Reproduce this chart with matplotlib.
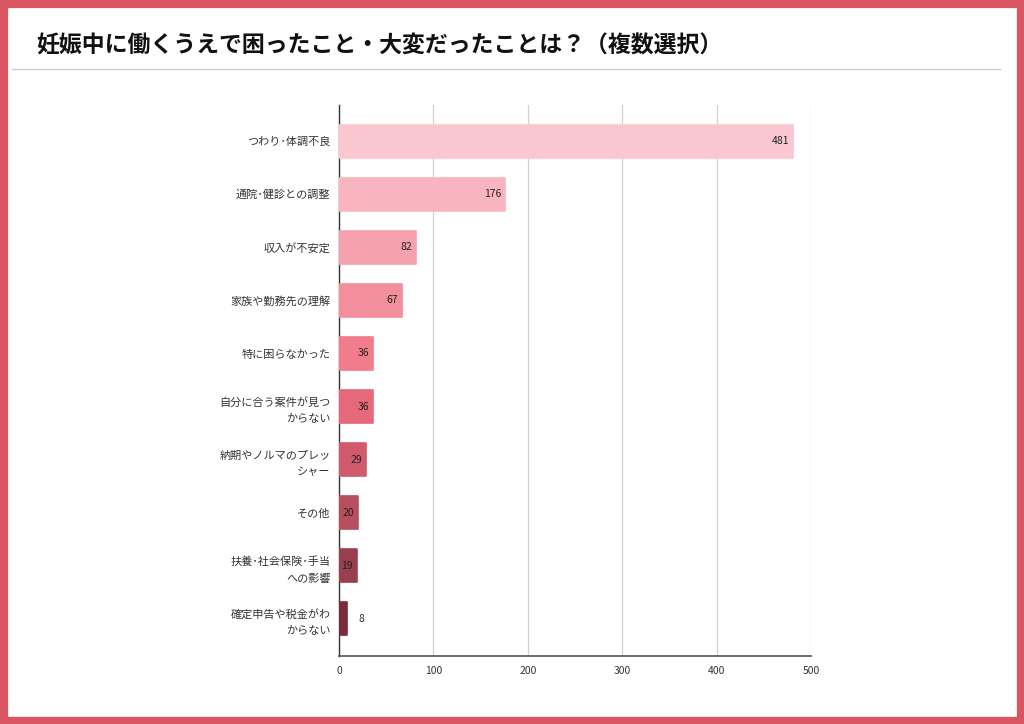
import matplotlib
matplotlib.use("Agg")
import matplotlib.pyplot as plt
from matplotlib.patches import Rectangle
from matplotlib.lines import Line2D
from matplotlib.transforms import offset_copy

plt.rcParams['font.family'] = ['Noto Sans CJK JP', 'DejaVu Sans']

title = "妊娠中に働くうえで困ったこと・大変だったことは？（複数選択）"
categories = [
    "つわり･体調不良",
    "通院･健診との調整",
    "収入が不安定",
    "家族や勤務先の理解",
    "特に困らなかった",
    "自分に合う案件が見つ\nからない",
    "納期やノルマのプレッ\nシャー",
    "その他",
    "扶養･社会保険･手当\nへの影響",
    "確定申告や税金がわ\nからない",
]
values = [481, 176, 82, 67, 36, 36, 29, 20, 19, 8]
colors = ["#FAC7D1", "#F8B5BF", "#F6A2AE", "#F38E9C", "#F07C8C",
          "#E6687B", "#D15B6D", "#B84F5F", "#9A3F4E", "#7A2C3B"]
xticks = [0, 100, 200, 300, 400, 500]

fig = plt.figure(figsize=(10.24, 7.24), dpi=100)
fig.patch.set_facecolor("white")

# border
border = "#D95561"
fig.add_artist(Rectangle((0, 0), 1, 1, transform=fig.transFigure, fill=False,
                         edgecolor=border, linewidth=11, zorder=10))
# title
fig.text(36/1024, 1-46/724, title, fontsize=16.5, fontweight='bold',
         color="#111111", va='center', ha='left')
fig.add_artist(Line2D([12/1024, 1000/1024], [1-69/724, 1-69/724],
                      transform=fig.transFigure, color="#CCCCCC", linewidth=1))

ax = fig.add_axes([339/1024, 1-656/724, (811-339)/1024, (656-105)/724])
y = list(range(len(values)))
ax.barh(y, values, height=0.62, color=colors, edgecolor=colors,
        linewidth=1.2, joinstyle='round', zorder=3)
ax.set_ylim(len(values)-1+0.7, -0.68)
ax.set_xlim(0, 500)
ax.set_xticks(xticks)
ax.set_xticklabels([str(t) for t in xticks], fontsize=7.5, color="#333333")
ax.set_yticks(y)
ax.set_yticklabels(categories, fontsize=8, color="#333333", linespacing=1.75)
ax.tick_params(axis='both', length=0, pad=7)
ax.tick_params(axis='y', pad=6)
ax.grid(axis='x', color="#D0D0D0", linewidth=0.9, zorder=0)
for s in ['top', 'right']:
    ax.spines[s].set_visible(False)
ax.spines['left'].set_color("#333333")
ax.spines['bottom'].set_color("#555555")
ax.spines['left'].set_linewidth(1.0)
ax.spines['bottom'].set_linewidth(1.2)

for i, v in enumerate(values):
    if v >= 15:
        tr = offset_copy(ax.transData, fig=fig, x=-4, y=0, units='dots')
        ax.text(v, i, str(v), transform=tr, ha='right', va='center',
                fontsize=7.5, color="#222222", zorder=4)
    else:
        tr = offset_copy(ax.transData, fig=fig, x=12, y=0, units='dots')
        ax.text(v, i, str(v), transform=tr, ha='left', va='center',
                fontsize=7.5, color="#333333", zorder=4)

fig.savefig("out.png", dpi=100, facecolor="white")
